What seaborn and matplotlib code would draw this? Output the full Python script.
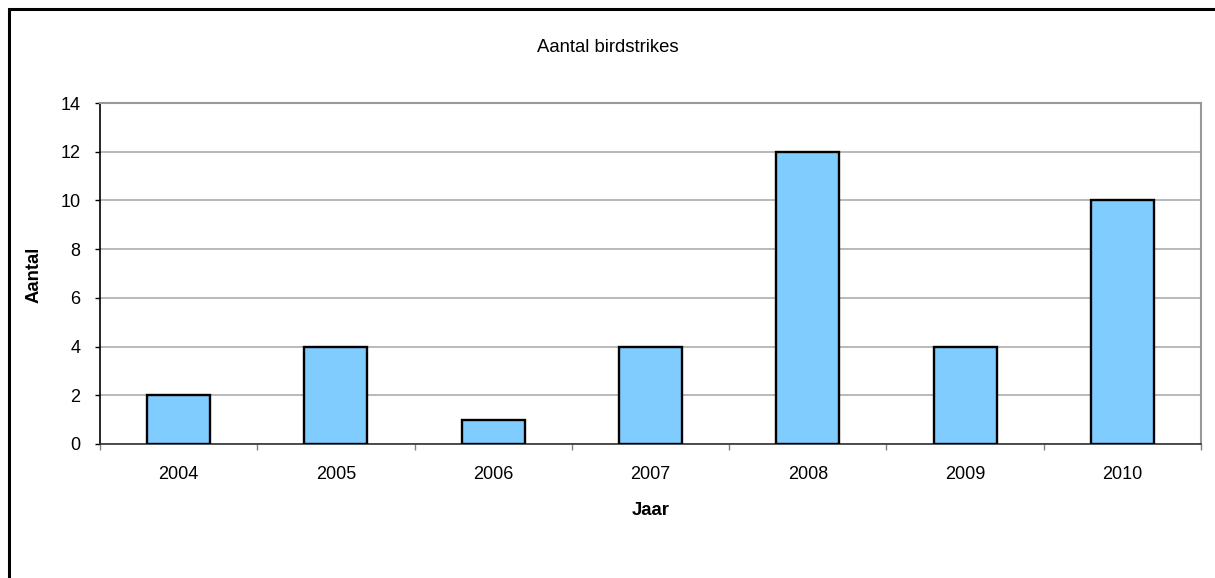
import matplotlib
matplotlib.use("Agg")
import matplotlib.pyplot as plt
from matplotlib.patches import Rectangle
import numpy as np
import pandas as pd
import seaborn as sns

# Bird strikes per year
years = ["2004", "2005", "2006", "2007", "2008", "2009", "2010"]
counts = [2, 4, 1, 4, 12, 4, 10]
y_ticks = [0, 2, 4, 6, 8, 10, 12, 14]

title = "Aantal birdstrikes"
x_label = "Jaar"
y_label = "Aantal"

sns.set_style("white")
plt.rcParams["font.family"] = ["Liberation Sans", "DejaVu Sans"]
plt.rcParams["text.color"] = "black"
plt.rcParams["axes.labelcolor"] = "black"
plt.rcParams["xtick.color"] = "black"
plt.rcParams["ytick.color"] = "black"

W, H = 1215, 578
fig = plt.figure(figsize=(W / 100, H / 100), dpi=100)
fig.patch.set_facecolor("white")

# Plot area
left, right, top, bottom = 100, 1201, 103, 444
ax = fig.add_axes([left / W, 1 - bottom / H, (right - left) / W, (bottom - top) / H])

df = pd.DataFrame({"year": years, "count": counts})
sns.barplot(data=df, x="year", y="count", ax=ax, color="#80CCFF", saturation=1,
            width=0.4, edgecolor="black", linewidth=1.7, zorder=3)

ax.set_xlim(-0.5, len(years) - 0.5)
ax.set_ylim(0, 14)
ax.set_yticks(y_ticks)
ax.set_yticklabels([str(v) for v in y_ticks])
ax.set_xlabel("")
ax.set_ylabel("")

# Gridlines
ax.yaxis.grid(True, color="#a6a6a6", linewidth=1.1, zorder=0)
ax.xaxis.grid(False)
ax.set_axisbelow(True)

# Spines
ax.spines["left"].set_color("black")
ax.spines["left"].set_linewidth(1.2)
ax.spines["bottom"].set_color("#333333")
ax.spines["bottom"].set_linewidth(1.2)
for s in ("top", "right"):
    ax.spines[s].set_visible(True)
    ax.spines[s].set_color("#999999")
    ax.spines[s].set_linewidth(1.5)

# Ticks: categories labelled at centres, tick marks between categories
ax.set_xticks(np.arange(-0.5, len(years)), minor=True)
ax.tick_params(axis="x", which="major", length=0, pad=16, labelsize=13, labelcolor="black")
ax.tick_params(axis="x", which="minor", length=4.5, width=1, color="#808080", direction="out")
ax.tick_params(axis="y", which="major", length=3.6, width=1, color="black",
               direction="out", pad=10.5, labelsize=13, labelcolor="black")
ax.tick_params(bottom=True, left=True, which="both")

# Titles
fig.text(W / 2 / W, 1 - 52 / H, title, ha="center", va="baseline", fontsize=13.3,
         color="black")
fig.text((left + right) / 2 / W, 1 - 515 / H, x_label, ha="center", va="baseline",
         fontsize=13.3, fontweight="bold", color="black")
fig.text(34 / W, 1 - 275 / H, y_label, ha="center", va="center", rotation=90,
         fontsize=13.3, fontweight="bold", color="black")

# Chart frame
fig.patches.append(Rectangle((9 / W, -0.1), 1.2, 1 - 9 / H + 0.1, transform=fig.transFigure,
                             fill=False, edgecolor="black", linewidth=2.2))

fig.savefig("out.png", dpi=100, facecolor="white")
